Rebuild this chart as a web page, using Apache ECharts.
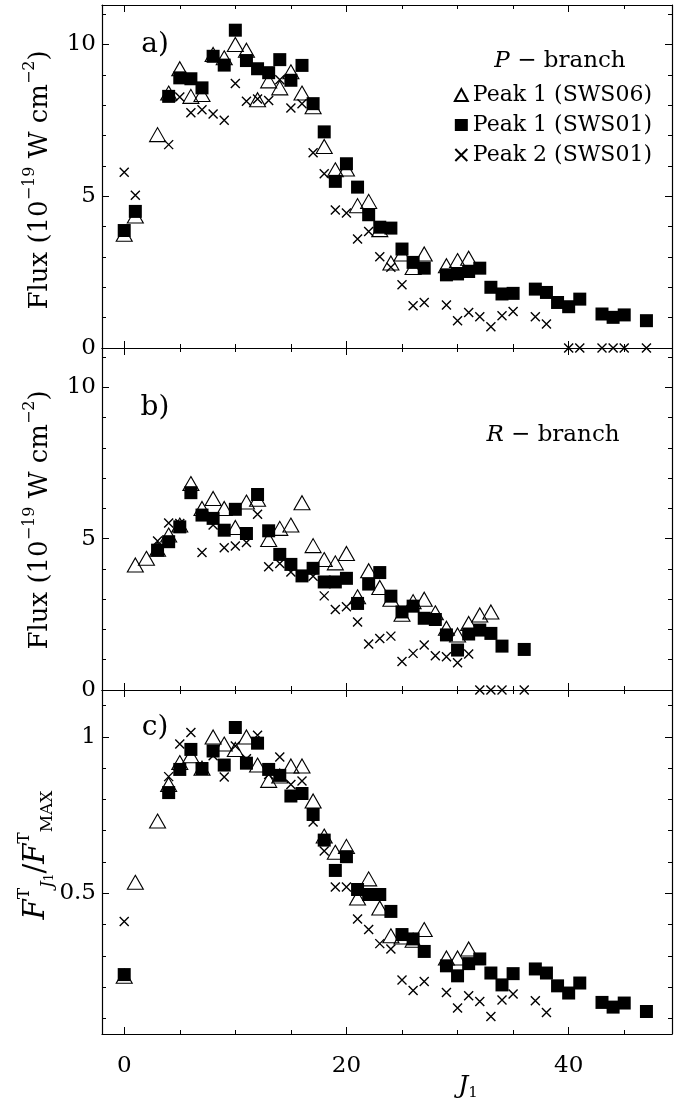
<!DOCTYPE html>
<html><head><meta charset="utf-8">
<script src="https://cdn.jsdelivr.net/npm/echarts@6/dist/echarts.min.js"></script>
<style>html,body{margin:0;padding:0;background:#fff}#c{width:691px;height:1099px}</style>
</head><body><div id="c"></div>
<script>
// ---------- data ----------
const seriesNames = ['Peak 1 (SWS06)', 'Peak 1 (SWS01)', 'Peak 2 (SWS01)'];
// panel a) P-branch, flux (1e-19 W cm^-2)
const aTriJ = [0,1,3,4,5,6,7,8,9,10,11,12,13,14,15,16,17,18,19,20,21,22,23,24,25,26,27,29,30,31];
const aTriF = [3.75,4.35,7.03,8.4,9.2,8.29,8.35,9.67,9.56,10.0,9.81,8.18,8.8,8.57,9.1,8.4,7.95,6.64,5.87,5.9,4.69,4.83,3.9,2.8,3.1,2.65,3.1,2.71,2.88,2.96];
const aSqJ = [0,1,4,5,6,7,8,9,10,11,12,13,14,15,16,17,18,19,20,21,22,23,24,25,26,27,29,30,31,32,33,34,35,37,38,39,40,41,43,44,45,47];
const aSqF = [3.87,4.5,8.29,8.9,8.87,8.57,9.61,9.32,10.47,9.47,9.2,9.07,9.5,8.82,9.31,8.05,7.12,5.49,6.07,5.3,4.39,3.98,3.95,3.26,2.82,2.63,2.41,2.44,2.52,2.63,2.0,1.78,1.8,1.94,1.83,1.5,1.36,1.61,1.12,1.01,1.09,0.9];
const aXJ = [0,1,4,5,6,7,8,9,10,11,12,13,14,15,16,17,18,19,20,21,22,23,24,25,26,27,29,30,31,32,33,34,35,37,38,40,41,43,44,45,47];
const aXF = [5.79,5.03,6.7,8.27,7.75,7.85,7.71,7.5,8.71,8.13,8.2,8.15,8.84,7.91,8.05,6.43,5.74,4.55,4.45,3.59,3.84,3.01,2.66,2.08,1.39,1.5,1.42,0.9,1.17,1.03,0.7,1.06,1.2,1.03,0.79,0,0,0,0,0,0];
// panel b) R-branch
const bTriJ = [1,2,3,4,5,6,7,8,9,10,11,12,13,14,15,16,17,18,19,20,21,22,23,24,25,26,27,28,29,30,31,32,33];
const bTriF = [4.13,4.35,4.65,5.12,5.45,6.82,6.0,6.33,6.0,5.37,6.21,6.3,4.97,5.34,5.45,6.19,4.77,4.31,4.2,4.51,3.08,3.94,3.39,3.0,2.5,2.92,3.0,2.55,2.04,1.82,2.2,2.48,2.58];
const bSqJ = [3,4,5,6,7,8,9,10,11,12,13,14,15,16,17,18,19,20,21,22,23,24,25,26,27,28,29,30,31,32,33,34,36];
const bSqF = [4.62,4.9,5.39,6.52,5.78,5.67,5.28,5.97,5.17,6.46,5.26,4.48,4.15,3.77,4.02,3.57,3.57,3.69,2.86,3.5,3.88,3.1,2.58,2.77,2.37,2.33,1.82,1.32,1.85,1.98,1.87,1.45,1.34];
const bXJ = [3,4,5,7,8,9,10,11,12,13,14,15,16,17,18,19,20,21,22,23,24,25,26,27,28,29,30,31,32,33,34,36];
const bXF = [4.92,5.52,5.5,4.54,5.45,4.7,4.76,4.87,5.81,4.07,4.18,3.9,3.8,3.76,3.11,2.66,2.75,2.25,1.52,1.7,1.78,0.94,1.21,1.49,1.13,1.1,0.9,1.19,0,0,0,0];
// panel c) normalised F^T_J1 / F^T_MAX
const cTriJ = [0,1,3,4,5,6,7,8,9,10,11,12,13,14,15,16,17,18,19,20,21,22,23,24,25,26,27,29,30,31];
const cTriV = [0.235,0.535,0.731,0.848,0.918,0.94,0.9,1.0,0.977,0.96,1.0,0.91,0.861,0.875,0.907,0.907,0.795,0.683,0.631,0.65,0.485,0.546,0.453,0.364,0.36,0.35,0.384,0.293,0.293,0.322];
const cSqJ = [0,4,5,6,7,8,9,10,11,12,13,14,15,16,17,18,19,20,21,22,23,24,25,26,27,29,30,31,32,33,34,35,37,38,39,40,41,43,44,45,47];
const cSqV = [0.24,0.822,0.896,0.96,0.899,0.955,0.91,1.03,0.916,0.98,0.896,0.877,0.811,0.819,0.752,0.67,0.573,0.617,0.512,0.496,0.496,0.442,0.368,0.354,0.314,0.268,0.236,0.275,0.29,0.245,0.207,0.243,0.258,0.245,0.204,0.181,0.213,0.151,0.136,0.149,0.122];
const cXJ = [0,4,5,6,8,9,10,11,12,13,14,15,16,17,18,19,20,21,22,23,24,25,26,27,29,30,31,32,33,34,35,37,38];
const cXV = [0.41,0.873,0.977,1.014,0.94,0.872,0.971,0.93,1.005,0.88,0.936,0.848,0.859,0.728,0.635,0.52,0.52,0.418,0.384,0.339,0.322,0.223,0.189,0.218,0.183,0.133,0.172,0.154,0.106,0.159,0.178,0.156,0.119];
// axes / ticks
const xRange = [-2, 49.3];
const xMajorTicks = [0, 20, 40];
const xMinorTicks = [5, 10, 15, 25, 30, 35, 45];
const xTickLabels = [0, 20, 40];
const yRanges = [[0, 11.3], [0, 11.3], [0.05, 1.15]];
const yMajorTicks = [[0, 5, 10], [0, 5, 10], [0.5, 1]];
const yMinorTicks = [[1,2,3,4,6,7,8,9,11], [1,2,3,4,6,7,8,9,11], [0.1,0.2,0.3,0.4,0.6,0.7,0.8,0.9,1.1]];
const yTickLabels = [[0, 5, 10], [0, 5, 10], [0.5, 1]];

// ---------- chart ----------
const FONT = 'DejaVu Serif';
const zip = (a, b) => a.map((v, i) => [v, b[i]]);
const panelData = [
  [zip(aTriJ, aTriF), zip(aSqJ, aSqF), zip(aXJ, aXF)],
  [zip(bTriJ, bTriF), zip(bSqJ, bSqF), zip(bXJ, bXF)],
  [zip(cTriJ, cTriV), zip(cSqJ, cSqV), zip(cXJ, cXV)]
];
const gridBoxes = [{top: 5, height: 343}, {top: 348, height: 342}, {top: 690, height: 344}];
const grid = gridBoxes.map(g => ({left: 102, width: 570, top: g.top, height: g.height, containLabel: false, outerBoundsMode: 'none'}));

const xAxis = [], yAxis = [];
const lineSt = {color: '#000', width: 1.2};
function xAx(g, pos, ticks, len, labels, line) {
  return {
    type: 'value', gridIndex: g, position: pos, min: xRange[0], max: xRange[1],
    axisLine: {show: line, onZero: false, lineStyle: lineSt},
    axisTick: {show: true, inside: true, length: len, customValues: ticks, lineStyle: {color: '#000', width: 1}},
    axisLabel: labels ? {show: true, customValues: labels, margin: 21, color: '#000', fontFamily: FONT, fontSize: 23} : {show: false},
    splitLine: {show: false}
  };
}
function yAx(g, pos, ticks, len, labels, line) {
  return {
    type: 'value', gridIndex: g, position: pos, min: yRanges[g][0], max: yRanges[g][1],
    axisLine: {show: line, onZero: false, lineStyle: lineSt},
    axisTick: {show: true, inside: true, length: len, customValues: ticks, lineStyle: {color: '#000', width: 1}},
    axisLabel: labels ? {show: true, customValues: labels, margin: 6, color: '#000', fontFamily: FONT, fontSize: 23} : {show: false},
    splitLine: {show: false}
  };
}
for (let g = 0; g < 3; g++) {
  xAxis.push(xAx(g, 'bottom', xMajorTicks, 7, g === 2 ? xTickLabels : null, true));
  xAxis.push(xAx(g, 'bottom', xMinorTicks, 4, null, false));
  xAxis.push(xAx(g, 'top', xMajorTicks, 7, null, true));
  xAxis.push(xAx(g, 'top', xMinorTicks, 4, null, false));
  yAxis.push(yAx(g, 'left', yMajorTicks[g], 7, yTickLabels[g], true));
  yAxis.push(yAx(g, 'left', yMinorTicks[g], 4, null, false));
  yAxis.push(yAx(g, 'right', yMajorTicks[g], 7, null, true));
  yAxis.push(yAx(g, 'right', yMinorTicks[g], 4, null, false));
}

const styles = [
  {symbol: 'triangle', symbolSize: [16, 14], itemStyle: {color: 'rgba(255,255,255,0)', borderColor: '#000', borderWidth: 1.1, opacity: 1}},
  {symbol: 'rect', symbolSize: 13, itemStyle: {color: '#000', opacity: 1}},
  {symbol: 'path://M0,0L10,10M10,0L0,10', symbolSize: 9, itemStyle: {color: 'rgba(0,0,0,0)', borderColor: '#000', borderWidth: 1.4, opacity: 1}}
];
const series = [];
for (let g = 0; g < 3; g++) {
  for (let s = 0; s < 3; s++) {
    series.push(Object.assign({
      type: 'scatter', name: seriesNames[s], xAxisIndex: g * 4, yAxisIndex: g * 4,
      data: panelData[g][s], z: 2 + s, emphasis: {disabled: true}
    }, JSON.parse(JSON.stringify(styles[s]))));
  }
}

const txt = (x, y, text, size, rich, extra) => Object.assign({
  type: 'text', x: x, y: y,
  style: {text: text, fill: '#000', fontFamily: FONT, fontSize: size, align: 'center', verticalAlign: 'middle', rich: rich || {}}
}, extra || {});

const fluxRich = {
  n: {fontFamily: FONT, fontSize: 26, lineHeight: 36, verticalAlign: 'middle', fill: '#000'},
  p: {fontFamily: FONT, fontSize: 16, lineHeight: 16, verticalAlign: 'top', fill: '#000'}
};
const fluxText = '{n|Flux (10}{p|−19}{n| W cm}{p|−2}{n|)}';
const normRich = {
  it: {fontFamily: FONT, fontStyle: 'italic', fontSize: 29, lineHeight: 40, verticalAlign: 'middle', fill: '#000'},
  n: {fontFamily: FONT, fontSize: 29, lineHeight: 40, verticalAlign: 'middle', fill: '#000'},
  p: {fontFamily: FONT, fontSize: 17, lineHeight: 17, verticalAlign: 'top', fill: '#000'},
  b: {fontFamily: FONT, fontSize: 17, lineHeight: 17, verticalAlign: 'bottom', fill: '#000'},
  bi: {fontFamily: FONT, fontStyle: 'italic', fontSize: 17, lineHeight: 17, verticalAlign: 'bottom', fill: '#000'},
  bs: {fontFamily: FONT, fontSize: 12, lineHeight: 12, verticalAlign: 'bottom', fill: '#000'}
};
const branchRich = {
  i: {fontFamily: FONT, fontStyle: 'italic', fontSize: 23, fill: '#000'},
  n: {fontFamily: FONT, fontSize: 23, fill: '#000'}
};

const option = {
  animation: false,
  backgroundColor: '#fff',
  grid: grid, xAxis: xAxis, yAxis: yAxis, series: series,
  legend: {
    data: seriesNames, orient: 'vertical', right: 34, top: 79,
    itemWidth: 13, itemHeight: 12, itemGap: 8, align: 'left',
    textStyle: {fontFamily: FONT, fontSize: 22, color: '#000'}
  },
  graphic: [
    txt(155, 45, 'a)', 28),
    txt(155, 408, 'b)', 28),
    txt(155, 728, 'c)', 28),
    txt(560, 61, '{i|P}{n| − branch}', 23, branchRich),
    txt(553, 435, '{i|R}{n| − branch}', 23, branchRich),
    txt(40, 180, fluxText, 26, fluxRich, {rotation: Math.PI / 2}),
    txt(40, 520, fluxText, 26, fluxRich, {rotation: Math.PI / 2}),
    txt(36, 855, '{it|F}{p|T}{bi|J}{bs|1}{n|/}{it|F}{p|T}{b|MAX}', 29, normRich, {rotation: Math.PI / 2}),
    txt(468, 1086, '{i|J}{s|1}', 24, {
      i: {fontFamily: FONT, fontStyle: 'italic', fontSize: 25, lineHeight: 30, verticalAlign: 'middle', fill: '#000'},
      s: {fontFamily: FONT, fontSize: 15, lineHeight: 15, verticalAlign: 'bottom', fill: '#000'}
    })
  ]
};
const chart = echarts.init(document.getElementById('c'), null, {renderer: 'canvas'});
chart.setOption(option);
</script></body></html>
